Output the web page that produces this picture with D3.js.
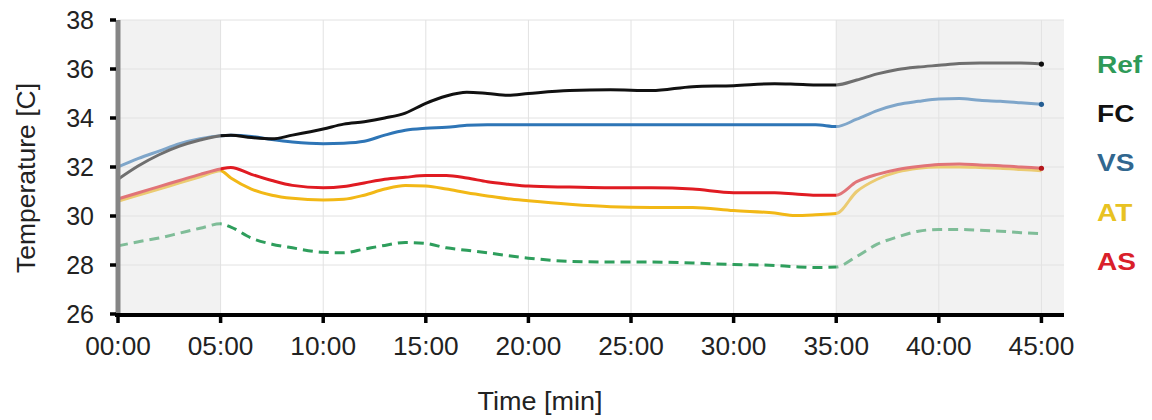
<!DOCTYPE html>
<html><head><meta charset="utf-8">
<script src="https://cdn.jsdelivr.net/npm/d3@7/dist/d3.min.js"></script>
<style>body{margin:0;background:#fff}svg{display:block}</style>
</head><body><svg id="c" width="1152" height="420"></svg>
<script>
const times = [0,1,2,3,4,5,5.5,6.5,7.5,8.5,10,11,12,13,14,15,16,17,18,19,20,22,24,26,28,30,32,33,34,35,36,37,38,39,40,41,42,43,44,45];
const fcValues  = [31.5,32.05,32.5,32.85,33.1,33.28,33.3,33.2,33.15,33.3,33.55,33.75,33.85,34.0,34.2,34.6,34.9,35.05,35.0,34.93,35.0,35.12,35.15,35.12,35.28,35.32,35.4,35.38,35.35,35.35,35.55,35.8,35.98,36.08,36.15,36.22,36.24,36.24,36.24,36.2];
const vsValues  = [32.0,32.35,32.65,32.95,33.15,33.28,33.3,33.25,33.12,33.02,32.95,32.97,33.05,33.3,33.5,33.58,33.62,33.7,33.72,33.72,33.72,33.72,33.72,33.72,33.72,33.72,33.72,33.72,33.72,33.65,33.95,34.3,34.55,34.68,34.78,34.8,34.72,34.68,34.62,34.56];
const asValues  = [30.7,30.95,31.2,31.45,31.7,31.92,31.98,31.7,31.45,31.25,31.15,31.2,31.35,31.5,31.58,31.65,31.65,31.55,31.4,31.3,31.22,31.18,31.15,31.15,31.1,30.95,30.95,30.9,30.85,30.85,31.4,31.7,31.9,32.02,32.1,32.12,32.08,32.05,32.0,31.95];
const atValues  = [30.6,30.85,31.1,31.35,31.6,31.85,31.55,31.1,30.85,30.72,30.65,30.68,30.85,31.1,31.25,31.22,31.1,30.95,30.82,30.7,30.62,30.48,30.38,30.35,30.35,30.22,30.12,30.02,30.05,30.1,31.0,31.5,31.8,31.95,32.0,32.0,31.98,31.95,31.9,31.85];
const refValues = [28.78,28.95,29.1,29.3,29.5,29.68,29.55,29.1,28.85,28.7,28.52,28.5,28.65,28.8,28.92,28.88,28.7,28.6,28.5,28.38,28.28,28.15,28.12,28.12,28.08,28.02,27.98,27.93,27.9,27.92,28.35,28.85,29.15,29.38,29.45,29.45,29.42,29.38,29.32,29.28];
const xTicks = [0,5,10,15,20,25,30,35,40,45];
const xTickLabels = ["00:00","05:00","10:00","15:00","20:00","25:00","30:00","35:00","40:00","45:00"];
const yTicks = [26,28,30,32,34,36,38];
const shadedRanges = [[0,5],[35,46.1]];
const legendNames = ["Ref","FC","VS","AT","AS"];

const series = [
  {name:"Ref", values:refValues, color:"#2e9e5c", legend:"#2e9a58", dash:"10,6"},
  {name:"FC",  values:fcValues,  color:"#111111", legend:"#111111", dash:null},
  {name:"VS",  values:vsValues,  color:"#2e75b6", legend:"#31678f", dash:null},
  {name:"AT",  values:atValues,  color:"#f2b816", legend:"#e8c222", dash:null},
  {name:"AS",  values:asValues,  color:"#e01b22", legend:"#d9202a", dash:null}
];

const svg = d3.select("#c");
const x = d3.scaleLinear().domain([0,46.1]).range([118,1064]);
const y = d3.scaleLinear().domain([26,38]).range([314,20]);
const font = "'Liberation Sans', Arial, sans-serif";

// grid
const g = svg.append("g");
g.selectAll(".hg").data(yTicks.slice(1)).enter().append("line")
  .attr("x1",x(0)).attr("x2",x(46.1)).attr("y1",d=>y(d)).attr("y2",d=>y(d))
  .attr("stroke","#e2e2e2").attr("stroke-width",1);
g.selectAll(".vg").data(xTicks.slice(1)).enter().append("line")
  .attr("x1",d=>x(d)).attr("x2",d=>x(d)).attr("y1",y(38)).attr("y2",y(26))
  .attr("stroke","#e2e2e2").attr("stroke-width",1);

// lines
const line = d3.line().x((d,i)=>x(times[i])).y(d=>y(d)).curve(d3.curveMonotoneX);
const order = ["Ref","AT","AS","VS","FC"];
order.forEach(n=>{
  const s = series.find(s=>s.name===n);
  svg.append("path").attr("d",line(s.values)).attr("fill","none")
    .attr("stroke",s.color).attr("stroke-width",3)
    .attr("stroke-dasharray",s.dash).attr("stroke-linejoin","round");
});

// shaded overlay
svg.selectAll(".shade").data(shadedRanges).enter().append("rect")
  .attr("x",d=>x(d[0])).attr("width",d=>x(d[1])-x(d[0]))
  .attr("y",y(38)).attr("height",y(26)-y(38))
  .attr("fill","#e2e2e2").attr("opacity",0.45);

// end markers
["FC","VS","AS"].forEach(n=>{
  const s = series.find(s=>s.name===n);
  svg.append("circle").attr("cx",x(times[times.length-1])).attr("cy",y(s.values[s.values.length-1]))
    .attr("r",2.6).attr("fill",d3.color(s.color).darker(0.6));
});

// axes
svg.append("line").attr("x1",x(0)).attr("x2",x(0)).attr("y1",y(38)).attr("y2",y(26)+2)
  .attr("stroke","#858585").attr("stroke-width",5);
svg.append("line").attr("x1",x(0)-3).attr("x2",x(46.1)).attr("y1",y(26)+1).attr("y2",y(26)+1)
  .attr("stroke","#000").attr("stroke-width",4);

svg.selectAll(".yt").data(yTicks).enter().append("line")
  .attr("x1",110).attr("x2",116).attr("y1",d=>y(d)).attr("y2",d=>y(d))
  .attr("stroke","#000").attr("stroke-width",3.5);
svg.selectAll(".xt").data(xTicks).enter().append("line")
  .attr("x1",d=>x(d)).attr("x2",d=>x(d)).attr("y1",y(26)+2).attr("y2",y(26)+9)
  .attr("stroke","#000").attr("stroke-width",3.5);

svg.selectAll(".yl").data(yTicks).enter().append("text")
  .attr("x",94).attr("y",d=>y(d)).attr("dy","0.36em").attr("text-anchor","end")
  .attr("font-family",font).attr("font-size",25).attr("fill","#222").text(d=>d);
svg.selectAll(".xl").data(xTicks).enter().append("text")
  .attr("transform",d=>`translate(${x(d)},355) scale(1.05,1)`).attr("text-anchor","middle")
  .attr("font-family",font).attr("font-size",25).attr("fill","#222").text((d,i)=>xTickLabels[i]);

svg.append("text").attr("transform","translate(35,178) rotate(-90)").attr("text-anchor","middle")
  .attr("font-family",font).attr("font-size",26.5).attr("fill","#222").text("Temperature [C]");
svg.append("text").attr("transform","translate(540,410) scale(1.08,1)").attr("text-anchor","middle")
  .attr("font-family",font).attr("font-size",25).attr("fill","#222").text("Time [min]");

// legend
legendNames.forEach((n,i)=>{
  const s = series.find(s=>s.name===n);
  svg.append("text").attr("transform",`translate(1097,${73+i*49.2}) scale(1.22,1)`)
    .attr("font-family",font).attr("font-weight","bold").attr("font-size",23)
    .attr("fill",s.legend).text(n);
});
</script></body></html>
